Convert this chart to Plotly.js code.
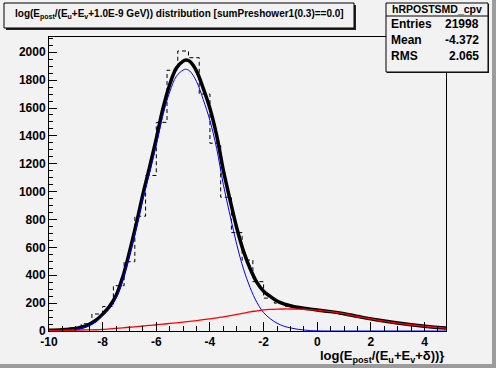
<!DOCTYPE html>
<html>
<head>
<meta charset="utf-8">
<script src="https://cdn.plot.ly/plotly-3.0.1.min.js"></script>
<style>html,body{margin:0;padding:0;background:#f2f2f2;}#plot{width:496px;height:368px;}</style>
</head>
<body>
<div id="plot"></div>
<script>
// ---- data ----
const xMin = -10;
const binWidth = 0.4;
const histCounts = [8, 12, 24, 52, 122, 176, 325, 497, 824, 1116,
  1497, 1871, 2009, 1961, 1700, 1347, 960, 706, 509, 354,
  236, 200, 178, 165, 157, 148, 138, 121, 112, 95,
  82, 68, 58, 50, 40, 30, 24];

const fitX = [-10, -9.5, -9, -8.75, -8.5, -8.25, -8, -7.75, -7.5, -7.25,
  -7, -6.75, -6.5, -6.25, -6, -5.75, -5.5, -5.25, -5, -4.9,
  -4.75, -4.5, -4.25, -4, -3.75, -3.5, -3.25, -3, -2.75, -2.5,
  -2.25, -2, -1.75, -1.5, -1.25, -1, -0.75, -0.5, -0.25, 0,
  0.5, 1, 1.5, 2, 2.5, 3, 3.5, 4, 4.5, 4.8];
const fitTotal = [5, 9, 18, 29, 48, 77, 121, 175, 254, 388,
  567, 766, 981, 1175, 1380, 1599, 1769, 1887, 1936, 1944,
  1934, 1865, 1741, 1597, 1404, 1152, 940, 739, 573, 447,
  349, 285, 248, 215, 195, 181, 170, 163, 157, 151,
  139, 124, 105, 87, 71, 57, 45, 34, 25, 21];
const fitSignal = [1, 4, 12, 22, 40, 68, 110, 160, 235, 365,
  540, 735, 945, 1135, 1335, 1550, 1715, 1828, 1872, 1878,
  1865, 1790, 1660, 1510, 1310, 1050, 830, 620, 445, 310,
  205, 132, 88, 56, 35, 22, 13, 7, 3, 1,
  0, 0, 0, 0, 0, 0, 0, 0, 0, 0];
const fitBackground = [4, 5, 6, 7, 8, 9, 11, 15, 19, 23,
  27, 31, 36, 40, 45, 49, 54, 59, 64, 66,
  69, 75, 81, 87, 94, 102, 110, 119, 128, 137,
  144, 151, 155, 157, 158, 158, 157, 156, 153, 150,
  139, 124, 105, 87, 71, 57, 45, 34, 25, 21];

const xTickVals = [-10, -8, -6, -4, -2, 0, 2, 4];
const xTickText = ["-10", "-8", "-6", "-4", "-2", "0", "2", "4"];
const yTickVals = [0, 200, 400, 600, 800, 1000, 1200, 1400, 1600, 1800, 2000];
const yTickText = ["0", "200", "400", "600", "800", "1000", "1200", "1400", "1600", "1800", "2000"];

const titleText = "log(E<sub>post</sub>/(E<sub>u</sub>+E<sub>v</sub>+1.0E-9 GeV)) distribution [sumPreshower1(0.3)==0.0]";
const xTitleText = "log(E<sub>post</sub>/(E<sub>u</sub>+E<sub>v</sub>+δ))}";
const statName = "hRPOSTSMD_cpv";
const statLabels = ["Entries", "Mean", "RMS"];
const statValues = ["21998", "-4.372", "2.065"];

// ---- build histogram step outline ----
const hx = [xMin], hy = [0];
for (let i = 0; i < histCounts.length; i++) {
  hx.push(xMin + i * binWidth); hy.push(histCounts[i]);
}
hx.push(xMin + histCounts.length * binWidth); hy.push(histCounts[histCounts.length - 1]);
const xMax = xMin + histCounts.length * binWidth;
const yMax = 1.05 * Math.max(...histCounts);

// ---- layout helpers (pixel -> paper) ----
const W = 496, H = 368, ML = 49, MR = 50, MT = 37, MB = 37;
const PW = W - ML - MR, PH = H - MT - MB;
const px = X => (X - ML) / PW;
const py = Y => (H - MB - Y) / PH;

const bg = '#f2f2f2';
const fam = 'Liberation Sans, Arial, Helvetica, sans-serif';
const bold = size => ({family: fam, size: size, color: 'black', weight: 'bold'});

const traces = [
  {x: hx, y: hy, mode: 'lines', line: {shape: 'hv', color: 'black', width: 1, dash: '4px,3px'}, hoverinfo: 'skip'},
  {x: fitX, y: fitTotal, mode: 'lines', line: {shape: 'spline', smoothing: 1, color: 'black', width: 3.5}, hoverinfo: 'skip'},
  {x: fitX, y: fitSignal, mode: 'lines', line: {shape: 'spline', smoothing: 1, color: '#0000ff', width: 1}, hoverinfo: 'skip'},
  {x: fitX, y: fitBackground, mode: 'lines', line: {shape: 'spline', smoothing: 1, color: '#ff0000', width: 1.3}, hoverinfo: 'skip'}
];

const shapes = [
  // canvas bevel
  {type: 'rect', xref: 'paper', yref: 'paper', x0: px(492), x1: px(496), y0: py(0), y1: py(368), fillcolor: '#9c9c9c', line: {width: 0}, layer: 'below'},
  {type: 'rect', xref: 'paper', yref: 'paper', x0: px(0), x1: px(496), y0: py(364), y1: py(368), fillcolor: '#9c9c9c', line: {width: 0}, layer: 'below'},
  // title box shadow + box
  {type: 'rect', xref: 'paper', yref: 'paper', x0: px(6), x1: px(356), y0: py(5), y1: py(30), fillcolor: '#222', line: {width: 0}},
  {type: 'rect', xref: 'paper', yref: 'paper', x0: px(4), x1: px(354), y0: py(3), y1: py(28), fillcolor: bg, line: {color: 'black', width: 1}},
  // stats box shadow + box
  {type: 'rect', xref: 'paper', yref: 'paper', x0: px(387), x1: px(489), y0: py(4), y1: py(73), fillcolor: '#222', line: {width: 0}},
  {type: 'rect', xref: 'paper', yref: 'paper', x0: px(386), x1: px(488), y0: py(3), y1: py(72), fillcolor: bg, line: {color: 'black', width: 1}},
  {type: 'line', xref: 'paper', yref: 'paper', x0: px(386), x1: px(488), y0: py(16), y1: py(16), line: {color: 'black', width: 1}}
];

const annotations = [
  {text: titleText, xref: 'paper', yref: 'paper', x: px(179), y: py(15), xanchor: 'center', yanchor: 'middle', showarrow: false, font: bold(10)},
  {text: xTitleText, xref: 'paper', yref: 'paper', x: px(446), y: py(356.5), xanchor: 'right', yanchor: 'middle', showarrow: false, font: bold(13)},
  {text: statName, xref: 'paper', yref: 'paper', x: px(437), y: py(9.5), xanchor: 'center', yanchor: 'middle', showarrow: false, font: bold(10.5)}
];
const statY = [24, 40, 55.5];
statLabels.forEach((lab, i) => {
  annotations.push({text: lab, xref: 'paper', yref: 'paper', x: px(389), y: py(statY[i]), xanchor: 'left', yanchor: 'middle', showarrow: false, font: bold(12)});
  annotations.push({text: statValues[i], xref: 'paper', yref: 'paper', x: px(481), y: py(statY[i]), xanchor: 'right', yanchor: 'middle', showarrow: false, font: bold(12)});
});

const layout = {
  width: W, height: H,
  margin: {l: ML, r: MR, t: MT, b: MB, pad: 0},
  paper_bgcolor: bg, plot_bgcolor: bg,
  showlegend: false,
  xaxis: {
    range: [xMin, xMax], tickmode: 'array', tickvals: xTickVals, ticktext: xTickText,
    ticks: 'inside', ticklen: 9, tickwidth: 1, tickcolor: 'black',
    minor: {tickmode: 'linear', tick0: xMin, dtick: 0.5, ticks: 'inside', ticklen: 5, tickcolor: 'black', showgrid: false},
    showline: true, mirror: true, linecolor: 'black', linewidth: 1,
    showgrid: false, zeroline: false, tickfont: bold(12)
  },
  yaxis: {
    range: [0, yMax], tickmode: 'array', tickvals: yTickVals, ticktext: yTickText,
    ticks: 'inside', ticklen: 8, tickwidth: 1, tickcolor: 'black',
    minor: {tickmode: 'linear', tick0: 0, dtick: 50, ticks: 'inside', ticklen: 4, tickcolor: 'black', showgrid: false},
    showline: true, mirror: true, linecolor: 'black', linewidth: 1,
    showgrid: false, zeroline: false, tickfont: bold(12)
  },
  shapes: shapes,
  annotations: annotations
};

Plotly.newPlot('plot', traces, layout, {staticPlot: true, displayModeBar: false});
</script>
</body>
</html>
